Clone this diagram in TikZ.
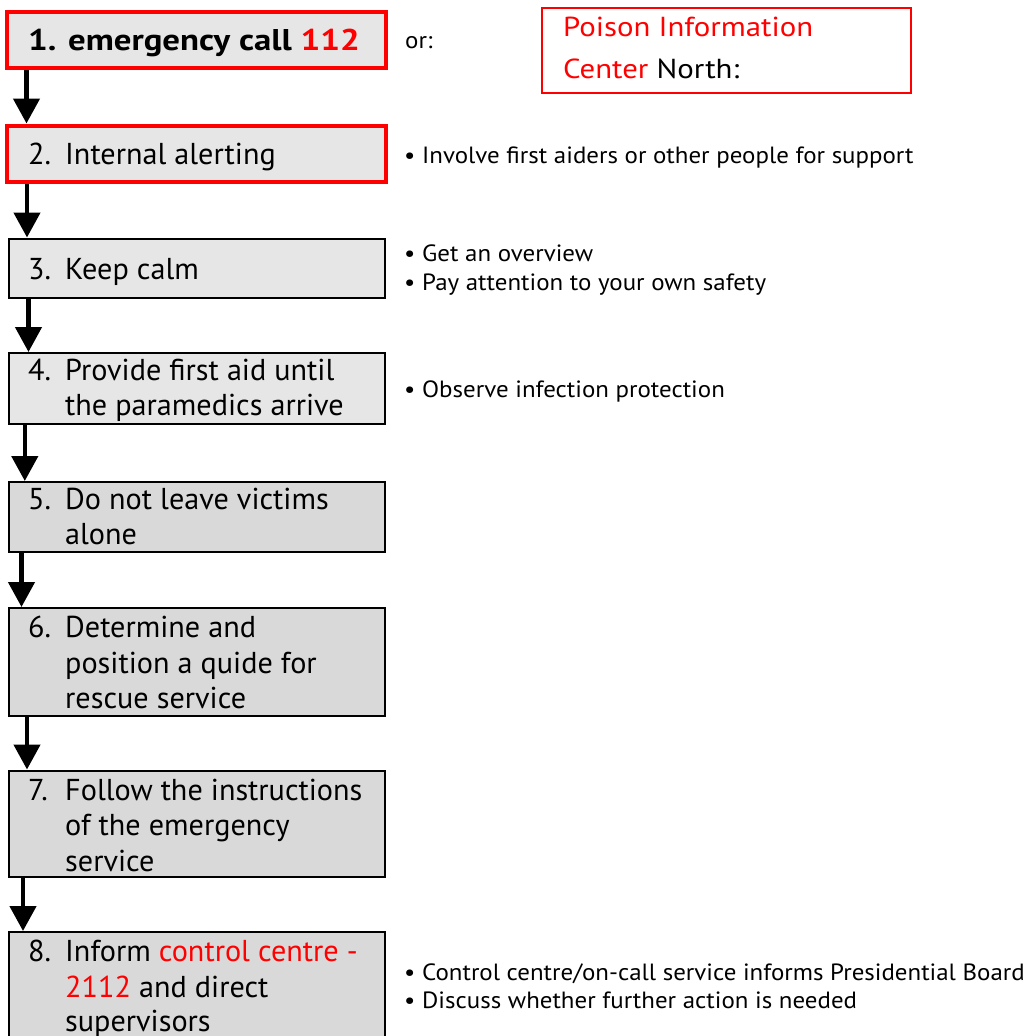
\documentclass[tikz,border=0pt]{standalone}
\usepackage{fontspec}
\setmainfont{PT Sans}
\newfontfamily\notefont[FakeStretch=1.06]{PT Sans}
\newfontfamily\widefont[FakeStretch=1.12]{PT Sans}
\newfontfamily\headfont[FakeStretch=1.16]{PT Sans Bold}
\usetikzlibrary{arrows.meta}
\definecolor{boxlight}{RGB}{230,230,230}
\definecolor{boxdark}{RGB}{217,217,217}
\definecolor{alertred}{RGB}{255,0,0}

\begin{document}
\begin{tikzpicture}[x=1pt,y=-1pt,
  stepbox/.style={draw=black, line width=2pt, inner sep=0pt, minimum width=376.3pt},
  alertbox/.style={draw=alertred, line width=4pt, inner sep=0pt, fill=boxlight, minimum width=379pt},
  boxtxt/.style={anchor=base west, inner sep=0pt, font=\fontsize{30.2}{36}\selectfont},
  sidetxt/.style={anchor=base west, inner sep=0pt, font=\notefont\fontsize{23.5}{28}\selectfont},
  poisontxt/.style={anchor=base west, inner sep=0pt, font=\widefont\fontsize{27.5}{33}\selectfont},
  flow/.style={line width=4.5pt, -{Triangle[length=25pt,width=26pt]}},
]
\useasboundingbox (0,0) rectangle (1027,1036);

% step boxes
\node[alertbox, minimum height=56.5pt] (b1) at (196.5,39.75) {};
\node[alertbox, minimum height=56.5pt] (b2) at (196.5,153.75) {};
\node[stepbox, fill=boxlight, minimum height=59pt] (b3) at (196.65,268) {};
\node[stepbox, fill=boxlight, minimum height=71pt] (b4) at (196.65,388.5) {};
\node[stepbox, fill=boxdark, minimum height=70pt] (b5) at (196.65,517) {};
\node[stepbox, fill=boxdark, minimum height=107.5pt] (b6) at (196.65,661.75) {};
\node[stepbox, fill=boxdark, minimum height=106.5pt] (b7) at (196.65,823.75) {};
\node[stepbox, fill=boxdark, minimum height=118pt] (b8) at (196.65,991) {};

% step texts
\node[boxtxt, font=\headfont\fontsize{30}{36}\selectfont] (t1) at (28,50) {1. emergency call \textcolor{alertred}{112}};
\node[boxtxt] (n2) at (28,164) {2.};
\node[boxtxt] (t2) at (65,164) {Internal alerting};
\node[boxtxt] (n3) at (28,279) {3.};
\node[boxtxt] (t3) at (65,279) {Keep calm};
\node[boxtxt] (n4) at (28,380) {4.};
\node[boxtxt] (t4a) at (65,380) {Provide first aid until};
\node[boxtxt] (t4b) at (65,415.5) {the paramedics arrive};
\node[boxtxt] (n5) at (28,509) {5.};
\node[boxtxt] (t5a) at (65,509) {Do not leave victims};
\node[boxtxt] (t5b) at (65,544) {alone};
\node[boxtxt] (n6) at (28,637) {6.};
\node[boxtxt] (t6a) at (65,637) {Determine and};
\node[boxtxt] (t6b) at (65,673) {position a quide for};
\node[boxtxt] (t6c) at (65,708.5) {rescue service};
\node[boxtxt] (n7) at (28,800) {7.};
\node[boxtxt] (t7a) at (65,800) {Follow the instructions};
\node[boxtxt] (t7b) at (65,835.5) {of the emergency};
\node[boxtxt] (t7c) at (65,871) {service};
\node[boxtxt] (n8) at (28,961) {8.};
\node[boxtxt] (t8a) at (65,961) {Inform \textcolor{alertred}{control centre -}};
\node[boxtxt] (t8b) at (65,997) {\textcolor{alertred}{2112} and direct};
\node[boxtxt] (t8c) at (65,1031) {supervisors};

% connectors between steps
\coordinate (x12) at (26.5,0);
\coordinate (x23) at (27,0);
\coordinate (x34) at (28.5,0);
\coordinate (x45) at (24.8,0);
\coordinate (x56) at (21.5,0);
\coordinate (x67) at (27,0);
\coordinate (x78) at (23,0);
\draw[flow] (x12 |- b1.south) -- (x12 |- b2.north);
\draw[flow] (x23 |- b2.south) -- (x23 |- b3.north);
\draw[flow] (x34 |- b3.south) -- (x34 |- b4.north);
\draw[flow] (x45 |- b4.south) -- (x45 |- b5.north);
\draw[flow] (x56 |- b5.south) -- (x56 |- b6.north);
\draw[flow] (x67 |- b6.south) -- (x67 |- b7.north);
\draw[flow] (x78 |- b7.south) -- (x78 |- b8.north);

% alternative number
\node[sidetxt] (or) at (405,48.3) {or:};
\node[draw=alertred, line width=2pt, minimum width=369pt, minimum height=85pt, inner sep=0pt] (poison) at (726.5,50.5) {};
\node[poisontxt, text=alertred] (p1) at (563,36.7) {Poison Information};
\node[poisontxt] (p2) at (563,78.3) {\textcolor{alertred}{Center} North:};

% side notes
\foreach \y/\txt [count=\i] in {
  163.3/Involve first aiders or other people for support,
  261.7/Get an overview,
  290/Pay attention to your own safety,
  397/Observe infection protection,
  980/Control centre\slash on-call service informs Presidential Board,
  1008/Discuss whether further action is needed}
{
  \node[sidetxt] (bul\i) at (404,\y) {\textbullet};
  \node[sidetxt] (note\i) at (422,\y) {\txt};
}
\end{tikzpicture}
\end{document}
